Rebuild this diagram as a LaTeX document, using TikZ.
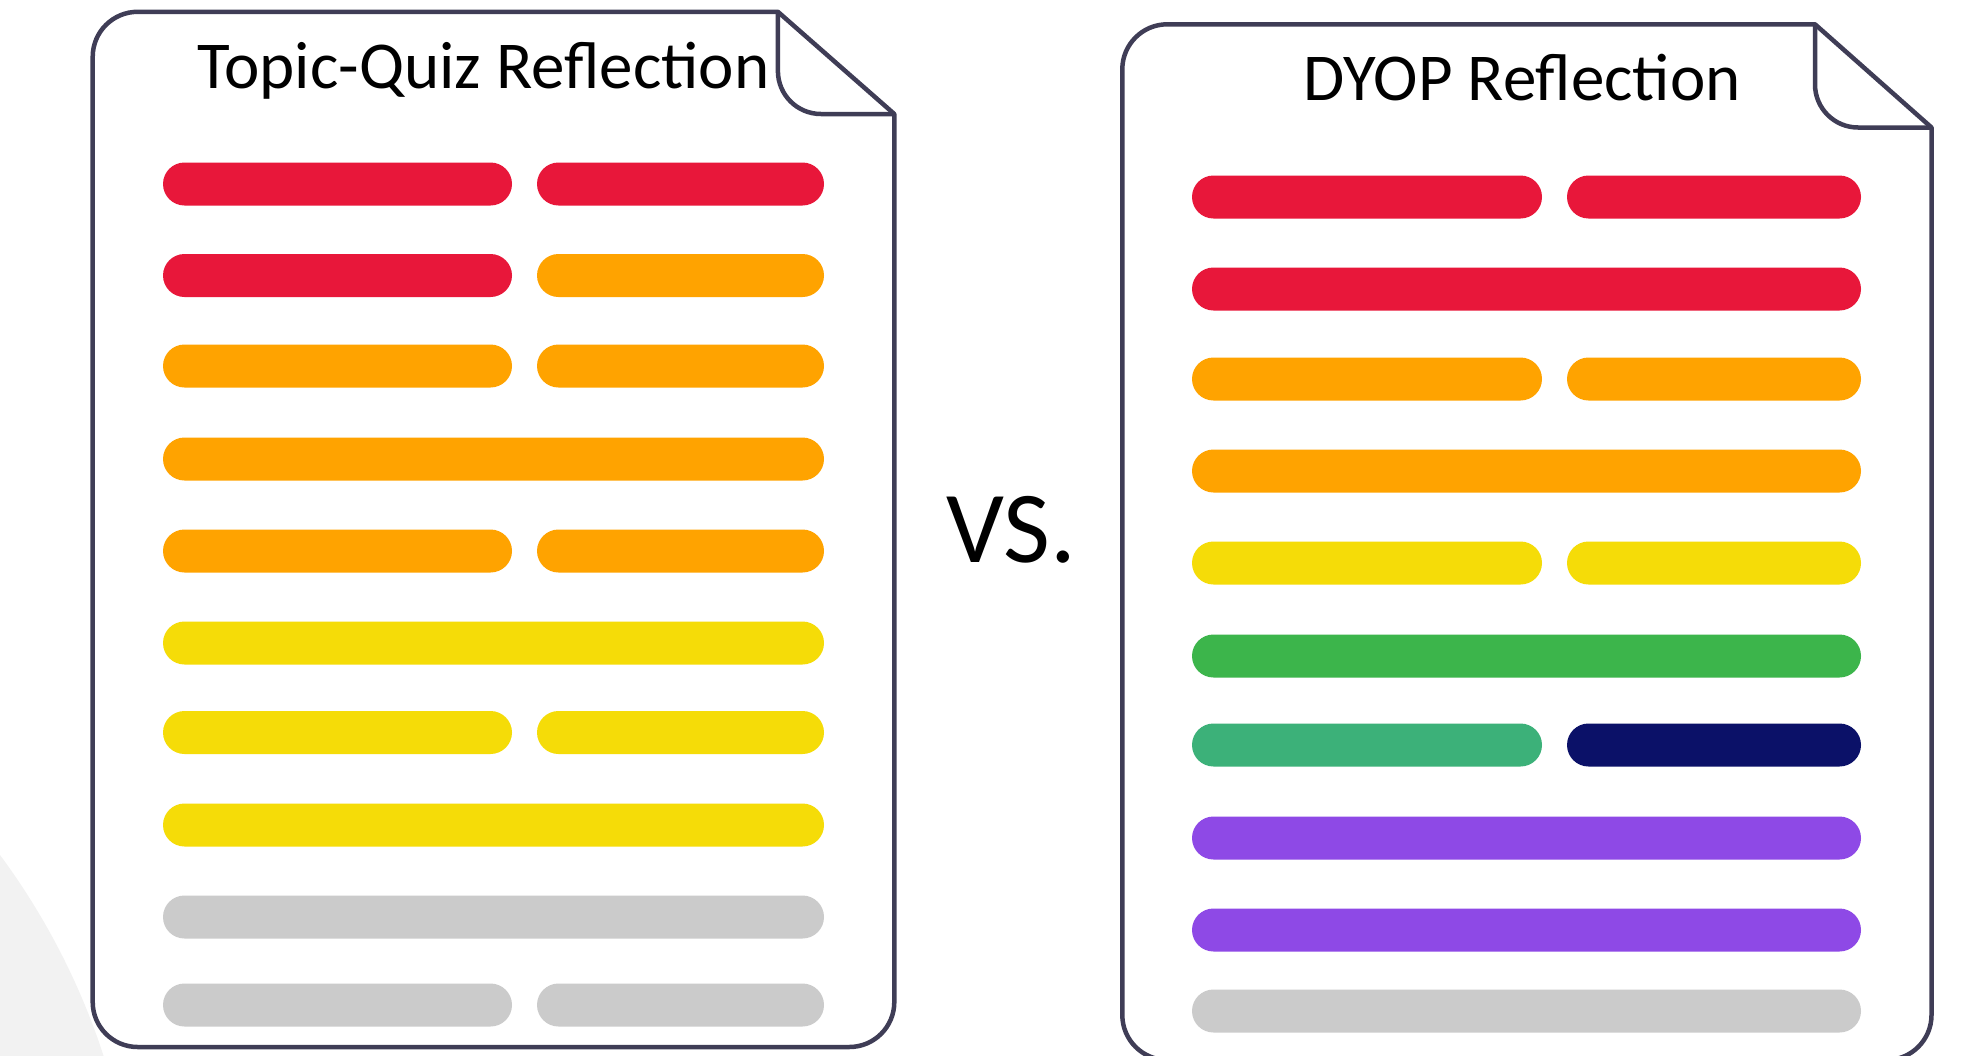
\documentclass[tikz,border=0pt]{standalone}
\usepackage{fontspec}
\setmainfont{Carlito}
\definecolor{docc}{HTML}{3F3D56}
\definecolor{bgc}{HTML}{F2F2F2}
\definecolor{cred}{HTML}{E8173A}
\definecolor{corange}{HTML}{FFA300}
\definecolor{cyellow}{HTML}{F5DC08}
\definecolor{cgray}{HTML}{CBCBCB}
\definecolor{cgreen}{HTML}{3CB54B}
\definecolor{cteal}{HTML}{3CB179}
\definecolor{cnavy}{HTML}{0B1168}
\definecolor{cpurple}{HTML}{8E49E6}
\newcommand{\docpage}[6]{% left top right bottom foldx foldy
  \draw[docline, fill=white] (#1+45,#2) -- (#5,#2) -- (#3,#6) -- (#3,#4-45)
    arc[start angle=0,end angle=90,radius=45] -- (#1+45,#4)
    arc[start angle=90,end angle=180,radius=45] -- (#1,#2+45)
    arc[start angle=180,end angle=270,radius=45] -- cycle;
  \draw[docline, rounded corners=43pt] (#5,#2) -- (#5,#6) -- (#3,#6);
}
\newcommand{\pill}[4]{% x1 x2 ycenter colour
  \fill[#4, rounded corners=21.5pt] (#1,#3-21.5) rectangle (#2,#3+21.5);
}
\begin{document}
\begin{tikzpicture}[x=1pt,y=-1pt,
  docline/.style={draw=docc, line width=4.5pt, line join=round},
  titletext/.style={inner sep=0pt, text=black, font=\fontsize{67}{80}\selectfont},
  vstext/.style={inner sep=0pt, text=black, font=\fontsize{102}{120}\selectfont}]
\useasboundingbox (0,0) rectangle (1964,1055);
\clip (0,0) rectangle (1964,1055);
\fill[bgc] (-567,1274) circle[radius=705];
% left document
\docpage{92.7}{11.8}{894.3}{1047}{777.9}{114}
\node[titletext, anchor=base] (tq) at (483.5,88.6) {Topic-Quiz Reflection};
\pill{163}{512}{184}{cred}     \pill{537}{824}{184}{cred}
\pill{163}{512}{275.5}{cred}   \pill{537}{824}{275.5}{corange}
\pill{163}{512}{366}{corange}  \pill{537}{824}{366}{corange}
\pill{163}{824}{459}{corange}
\pill{163}{512}{551}{corange}  \pill{537}{824}{551}{corange}
\pill{163}{824}{643}{cyellow}
\pill{163}{512}{732.5}{cyellow} \pill{537}{824}{732.5}{cyellow}
\pill{163}{824}{825}{cyellow}
\pill{163}{824}{917}{cgray}
\pill{163}{512}{1005}{cgray}   \pill{537}{824}{1005}{cgray}
% VS
\node[vstext, anchor=base west] (vs) at (946,562.7) {VS.};
% right document
\docpage{1122.3}{24.3}{1931.5}{1060}{1815}{127.5}
\node[titletext, anchor=base] (dy) at (1522,100.7) {DYOP Reflection};
\pill{1192}{1542}{197}{cred}     \pill{1567}{1861}{197}{cred}
\pill{1192}{1861}{289}{cred}
\pill{1192}{1542}{379}{corange}  \pill{1567}{1861}{379}{corange}
\pill{1192}{1861}{471}{corange}
\pill{1192}{1542}{563}{cyellow}  \pill{1567}{1861}{563}{cyellow}
\pill{1192}{1861}{656}{cgreen}
\pill{1192}{1542}{745}{cteal}    \pill{1567}{1861}{745}{cnavy}
\pill{1192}{1861}{838}{cpurple}
\pill{1192}{1861}{930}{cpurple}
\pill{1192}{1861}{1011}{cgray}
\end{tikzpicture}
\end{document}
